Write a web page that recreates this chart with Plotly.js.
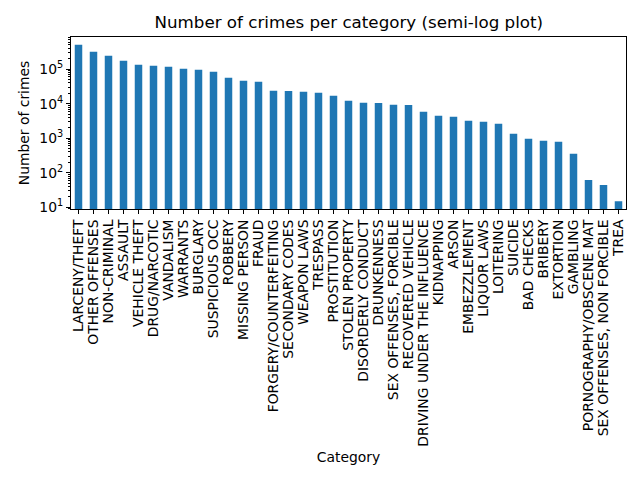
<!DOCTYPE html>
<html>
<head>
<meta charset="utf-8">
<script src="https://cdn.plot.ly/plotly-3.0.1.min.js"></script>
<style>
  html, body { margin: 0; padding: 0; background: white; }
  #chart { width: 640px; height: 480px; }
</style>
</head>
<body>
<div id="chart"></div>
<script>
const categories = [
  'LARCENY/THEFT', 'OTHER OFFENSES', 'NON-CRIMINAL', 'ASSAULT', 'VEHICLE THEFT',
  'DRUG/NARCOTIC', 'VANDALISM', 'WARRANTS', 'BURGLARY', 'SUSPICIOUS OCC',
  'ROBBERY', 'MISSING PERSON', 'FRAUD', 'FORGERY/COUNTERFEITING', 'SECONDARY CODES',
  'WEAPON LAWS', 'TRESPASS', 'PROSTITUTION', 'STOLEN PROPERTY', 'DISORDERLY CONDUCT',
  'DRUNKENNESS', 'SEX OFFENSES, FORCIBLE', 'RECOVERED VEHICLE', 'DRIVING UNDER THE INFLUENCE', 'KIDNAPPING',
  'ARSON', 'EMBEZZLEMENT', 'LIQUOR LAWS', 'LOITERING', 'SUICIDE',
  'BAD CHECKS', 'BRIBERY', 'EXTORTION', 'GAMBLING', 'PORNOGRAPHY/OBSCENE MAT',
  'SEX OFFENSES, NON FORCIBLE', 'TREA'
]

const crimeCounts = [
  507000, 318000, 243000, 175000, 134000,
  125000, 117000, 102000, 96000, 84000,
  56000, 46000, 43000, 23500, 23300,
  22000, 20600, 16900, 12100, 10600,
  10500, 9250, 9200, 5800, 4440,
  4150, 3180, 2970, 2600, 1340,
  957, 838, 783, 352, 62,
  44, 15
]

const yTickVals = [10, 100, 1000, 10000, 100000]
const yTickText = ['10<sup>1</sup>', '10<sup>2</sup>', '10<sup>3</sup>', '10<sup>4</sup>', '10<sup>5</sup>']

// minor ticks 2..9 inside each decade, like matplotlib's log locator
const minorVals = []
for (let d = 0; d <= 5; d++) {
  for (let k = 2; k <= 9; k++) minorVals.push(k * Math.pow(10, d))
}

const font = { family: 'DejaVu Sans', size: 13.9, color: 'black' }

const data = [{
  x: categories,
  y: crimeCounts,
  type: 'bar',
  marker: { color: '#1f77b4' },
  hoverinfo: 'x+y',
}]

const layout = {
  width: 640,
  height: 480,
  margin: { l: 71, r: 14, t: 37, b: 271 },
  paper_bgcolor: 'white',
  plot_bgcolor: 'white',
  font,
  showlegend: false,
  bargap: 0.5,
  title: {
    text: 'Number of crimes per category (semi-log plot)',
    font: { family: 'DejaVu Sans', size: 16.7, color: 'black' },
    x: 0.545,
    xanchor: 'center',
    y: 0.954,
    yanchor: 'middle',
  },
  xaxis: {
    type: 'category',
    range: [-0.5, 36.5],
    tickmode: 'array',
    tickvals: categories,
    ticktext: categories,
    tickangle: -90,
    ticks: 'outside',
    ticklen: 4,
    tickcolor: 'black',
    showline: true,
    linecolor: 'black',
    linewidth: 1,
    mirror: true,
    showgrid: false,
    tickfont: font,
    title: { text: 'Category', font, standoff: 6 },
    fixedrange: true,
  },
  yaxis: {
    type: 'log',
    range: [0.95, 5.93],
    tickmode: 'array',
    tickvals: yTickVals,
    ticktext: yTickText,
    ticks: 'outside',
    ticklen: 4,
    tickcolor: 'black',
    minor: { tickmode: 'array', tickvals: minorVals, ticks: 'outside', ticklen: 2, tickcolor: 'black', showgrid: false },
    showline: true,
    linecolor: 'black',
    linewidth: 1,
    mirror: true,
    showgrid: false,
    zeroline: false,
    tickfont: font,
    title: { text: 'Number of crimes', font, standoff: 6 },
    fixedrange: true,
  },
}

const config = { displayModeBar: false, responsive: false }

Plotly.newPlot('chart', data, layout, config)
</script>
</body>
</html>
